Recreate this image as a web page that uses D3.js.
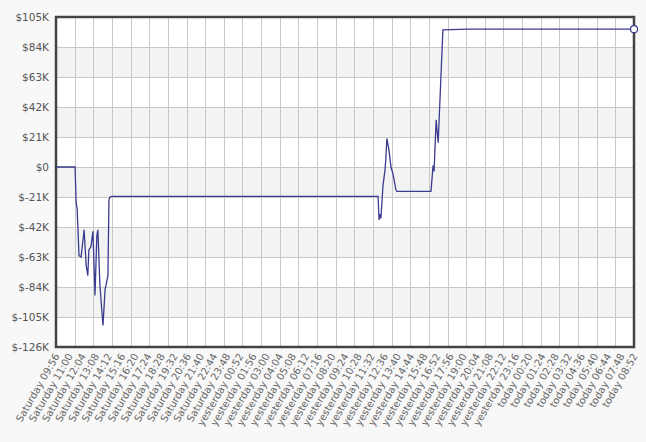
<!DOCTYPE html>
<html><head><meta charset="utf-8">
<script src="https://cdn.jsdelivr.net/npm/d3@7"></script>
<style>body{margin:0;background:#f8f8f8}</style></head>
<body><svg id="c" width="646" height="442"></svg>
<script>
const times=[0,93,98,103,112,122,127,137,147,155,160,170,180,190,199,204,214,229,239,253,258,263,273,1569,1574,1578,1583,1593,1603,1607,1612,1622,1632,1642,1656,1661,1827,1837,1842,1852,1862,1875,1885,2002,2816];
const values=[0,0,-25,-29,-62,-63,-57,-44,-69,-76,-58,-56,-45,-90,-48,-44,-83,-111,-86,-76,-23,-21,-20.5,-20.5,-37,-33,-36,-13,-2,6,20,12,0,-5,-16,-17,-17,1,-3,33,17,62,96,96.5,96.5];
const yTicks=[-126,-105,-84,-63,-42,-21,0,21,42,63,84,105];
const xLabels=["Saturday 09:56","Saturday 11:00","Saturday 12:04","Saturday 13:08","Saturday 14:12","Saturday 15:16","Saturday 16:20","Saturday 17:24","Saturday 18:28","Saturday 19:32","Saturday 20:36","Saturday 21:40","Saturday 22:44","Saturday 23:48","yesterday 00:52","yesterday 01:56","yesterday 03:00","yesterday 04:04","yesterday 05:08","yesterday 06:12","yesterday 07:16","yesterday 08:20","yesterday 09:24","yesterday 10:28","yesterday 11:32","yesterday 12:36","yesterday 13:40","yesterday 14:44","yesterday 15:48","yesterday 16:52","yesterday 17:56","yesterday 19:00","yesterday 20:04","yesterday 21:08","yesterday 22:12","yesterday 23:16","today 00:20","today 01:24","today 02:28","today 03:32","today 04:36","today 05:40","today 06:44","today 07:48","today 08:52"];
const svg=d3.select("#c");
const L=56,R=634,T=17,B=347;
const x=d3.scaleLinear().domain([0,(xLabels.length-1)*64]).range([L,R]);
const y=d3.scaleLinear().domain([-126,105]).range([B,T]);
svg.append("rect").attr("x",L).attr("y",T).attr("width",R-L).attr("height",B-T).attr("fill","#fff");
for(let i=0;i<yTicks.length-1;i++){ if(i%2==1) svg.append("rect").attr("x",L).attr("width",R-L).attr("y",y(yTicks[i+1])).attr("height",y(yTicks[i])-y(yTicks[i+1])).attr("fill","#f3f3f3");}
const g=svg.append("g").attr("stroke","#c8c8c8").attr("stroke-width",1);
yTicks.forEach(v=>g.append("line").attr("x1",L).attr("x2",R).attr("y1",y(v)+.5).attr("y2",y(v)+.5));
const nV=31;
d3.range(1,nV).forEach(i=>{const px=Math.round(L+(R-L)*i/nV)+.5;g.append("line").attr("x1",px).attr("x2",px).attr("y1",T).attr("y2",B);});
svg.append("rect").attr("x",L).attr("y",T).attr("width",R-L).attr("height",B-T).attr("fill","none").attr("stroke","#444").attr("stroke-width",2.5);
yTicks.forEach(v=>svg.append("text").attr("x",L-7).attr("y",y(v)+4).attr("text-anchor","end").attr("font-family","DejaVu Sans").attr("font-size",10.5).attr("fill","#555").text(v===0?"$0":"$"+v+"K"));
xLabels.forEach((s,i)=>svg.append("text").attr("transform",`translate(${x(i*64)+4},${B+9}) rotate(-60)`).attr("text-anchor","end").attr("font-family","DejaVu Sans").attr("font-size",10).attr("fill","#666").text(s));
const data=times.map((t,i)=>[t,values[i]]);
svg.append("path").datum(data).attr("d",d3.line().x(d=>x(d[0])).y(d=>y(d[1]))).attr("fill","none").attr("stroke","#3b3b8f").attr("stroke-width",1.3);
const last=data[data.length-1];
svg.append("circle").attr("cx",x(last[0])).attr("cy",y(last[1])).attr("r",3.5).attr("fill","#fff").attr("stroke","#3b3b8f").attr("stroke-width",1.2);
</script></body></html>
